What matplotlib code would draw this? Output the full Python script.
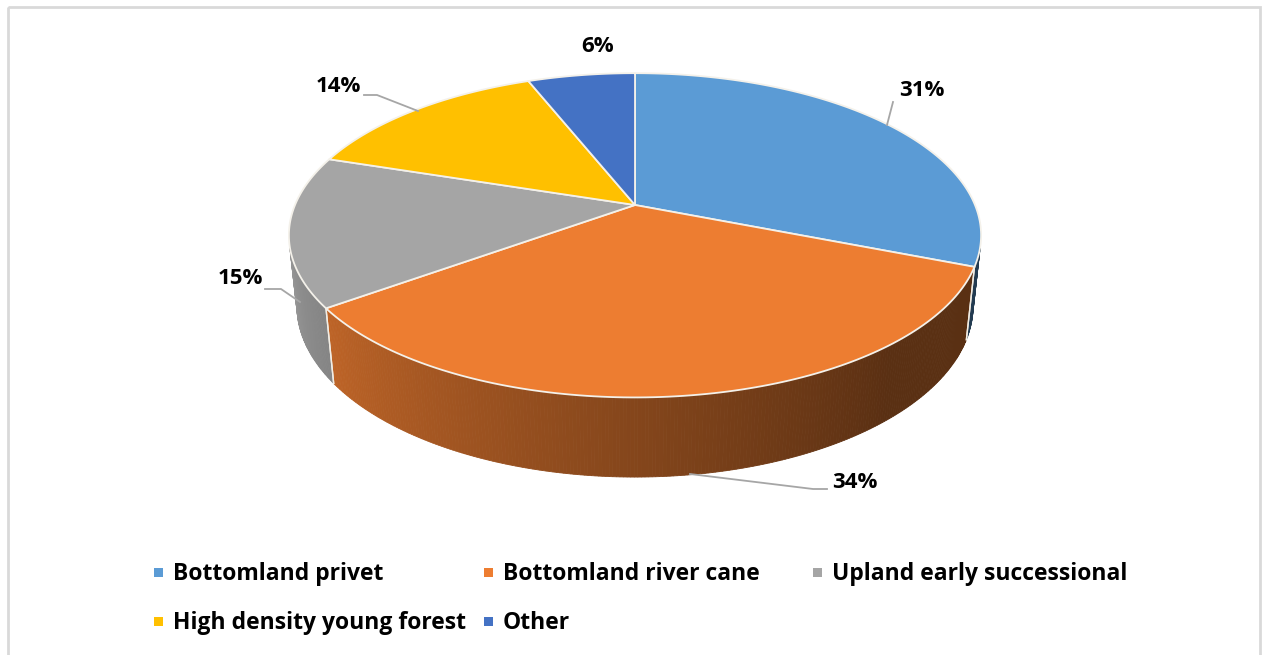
import numpy as np
import matplotlib.pyplot as plt
from matplotlib.patches import Polygon, Rectangle
from matplotlib.colors import to_rgb

# Habitat share (%) by cover type
categories = ["Bottomland privet", "Bottomland river cane", "Upland early successional",
              "High density young forest", "Other"]
shares = [31, 34, 15, 14, 6]
slice_colors = ["#5B9BD5", "#ED7D31", "#A5A5A5", "#FFC000", "#4472C4"]

W, H = 1262, 655
CX, CY = 635, 205        # pie centre on screen (px)
UNIT = 340               # px per pie radius
ELEV = np.radians(27.4)  # viewing elevation
DIST = 4.75              # camera distance in radii
THICK = 0.235            # pie thickness in radii

FONT = ["Open Sans", "DejaVu Sans"]


def project(x, y, z):
    """3D point (x right, y toward viewer, z up) -> screen pixels."""
    c, s = np.cos(ELEV), np.sin(ELEV)
    depth = y * c + z * s
    k = DIST / (DIST - depth)
    up = z * c - y * s
    return CX + x * k * UNIT, CY - up * k * UNIT


def rim(theta_deg, z):
    t = np.radians(theta_deg)
    return project(np.sin(t), -np.cos(t), z)


def side_factor(theta):
    return np.clip(0.38 + (theta - 140) / 94.0 * 0.42, 0.38, 0.9)


fig = plt.figure(figsize=(W / 100, H / 100), dpi=100)
ax = fig.add_axes([0, 0, 1, 1])
ax.set_xlim(0, W)
ax.set_ylim(H, 0)
ax.axis("off")

# chart frame
ax.add_patch(Rectangle((8, 7), 1252, 700, fill=False, edgecolor="#d9d9d9", lw=2))

bounds = np.concatenate([[0], np.cumsum(shares)]) * 360.0 / sum(shares)

# visible part of the outer wall
cos_lim = -1.0 / (DIST * np.cos(ELEV))
vis0 = np.degrees(np.arccos(cos_lim))
vis1 = 360 - vis0

# outer wall, drawn in thin strips so the shading can vary
for i, col in enumerate(slice_colors):
    a, b = max(bounds[i], vis0), min(bounds[i + 1], vis1)
    if a >= b:
        continue
    base = np.array(to_rgb(col))
    steps = np.linspace(a, b, max(int((b - a) * 2), 2))
    for t0, t1 in zip(steps[:-1], steps[1:]):
        pts = [rim(t0, 0), rim(t1, 0), rim(t1, -THICK), rim(t0, -THICK)]
        shade = base * side_factor(0.5 * (t0 + t1))
        ax.add_patch(Polygon(pts, closed=True, facecolor=shade, edgecolor=shade,
                             lw=0.6, zorder=2))
    # light seam where two slices meet on the wall
    for t in (a, b):
        if vis0 < t < vis1 and t in bounds:
            ax.plot(*zip(rim(t, 0), rim(t, -THICK)), color="#f2ede4", lw=1.0, zorder=3)

# top faces
for i, col in enumerate(slice_colors):
    arc = np.linspace(bounds[i], bounds[i + 1], 120)
    pts = [project(0, 0, 0)] + [rim(t, 0) for t in arc]
    ax.add_patch(Polygon(pts, closed=True, facecolor=col, edgecolor="#f4f1ea",
                         lw=1.3, joinstyle="round", zorder=4))

# data labels with leader lines
label_pos = [(922, 91), (855, 482), (240, 278), (338, 87), (598, 46)]
leaders = [
    [(893, 102), (887, 125)],
    [(827, 489), (813, 489), (690, 474)],
    [(265, 289), (281, 289), (300, 302)],
    [(364, 95), (377, 95), (418, 111)],
    None,
]
for v, (x, y), ld in zip(shares, label_pos, leaders):
    ax.text(x, y, f"{v}%", ha="center", va="center", fontsize=16,
            fontweight="bold", family=FONT, color="black", zorder=6)
    if ld:
        ax.plot(*zip(*ld), color="#a6a6a6", lw=1.3, zorder=5)

# legend
legend_pos = [(158, 572), (488, 572), (817, 572), (158, 621), (488, 621)]
for name, col, (x, y) in zip(categories, slice_colors, legend_pos):
    ax.add_patch(Rectangle((x - 4.5, y - 4.5), 9, 9, facecolor=col, edgecolor="none"))
    ax.text(x + 15, y + 8, name, ha="left", va="baseline", fontsize=16.5,
            fontweight="bold", family=FONT, color="black")

fig.savefig("out.png", dpi=100, facecolor="white")
